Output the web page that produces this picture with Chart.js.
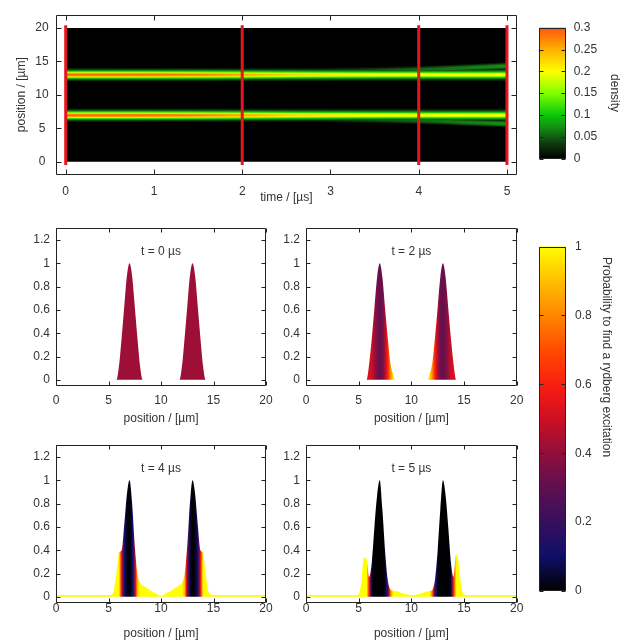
<!DOCTYPE html>
<html>
<head>
<meta charset="utf-8">
<script src="https://cdn.jsdelivr.net/npm/chart.js@4.4.1/dist/chart.umd.min.js"></script>
<style>
    html, body { margin: 0; padding: 0; background: #fff; }
    #wrap { position: relative; width: 631px; height: 641px; overflow: hidden; }
    canvas { position: absolute; }
</style>
</head>
<body>
<div id="wrap">
    <canvas id="heat" width="540" height="210" style="left:0;top:0"></canvas>
    <canvas id="densityBar" width="111" height="190" style="left:520px;top:0"></canvas>
    <canvas id="p0" width="290" height="215" style="left:0;top:215px"></canvas>
    <canvas id="p2" width="290" height="215" style="left:250px;top:215px"></canvas>
    <canvas id="p4" width="290" height="209" style="left:0;top:432px"></canvas>
    <canvas id="p5" width="290" height="209" style="left:250px;top:432px"></canvas>
    <canvas id="probBar" width="111" height="380" style="left:520px;top:230px"></canvas>
</div>
<script>
// --- top panel: band centres and peak density over time ---
const heatTimes = [0, 0.5, 1, 1.5, 2, 2.5, 3, 3.5, 4, 4.5, 5];
const upperCenter = [13.0, 13.0, 13.0, 13.0, 13.0, 13.0, 13.0, 13.0, 13.0, 13.0, 13.0];
const lowerCenter = [6.95, 6.95, 6.95, 6.95, 6.95, 6.95, 6.95, 6.95, 6.95, 6.95, 6.95];
const mainPeak = [0.29, 0.29, 0.285, 0.275, 0.255, 0.23, 0.215, 0.205, 0.2, 0.2, 0.2];
const upperBranch = [null, null, null, null, null, 13.35, 13.5, 13.6, 13.75, 14.0, 14.3];
const lowerBranch = [null, null, null, null, null, 6.55, 6.4, 6.3, 6.15, 5.9, 5.65];
const branchPeak = [null, null, null, null, null, 0.025, 0.04, 0.05, 0.06, 0.07, 0.08];
const markTimes = [0, 2, 4, 5];

const timeTicks = [0, 1, 2, 3, 4, 5];
const heatPosTicks = [0, 5, 10, 15, 20];
const densityTicks = [0, 0.05, 0.1, 0.15, 0.2, 0.25, 0.3];
const posTicks = [0, 5, 10, 15, 20];
const profileTicks = [0, 0.2, 0.4, 0.6, 0.8, 1, 1.2];
const probTicks = [0, 0.2, 0.4, 0.6, 0.8, 1];

// --- bottom panels: normalised density and excitation probability ---
const positions = [0, 1, 2, 3, 4, 4.5, 5, 5.25, 5.5, 5.75, 6, 6.25, 6.5, 6.75, 7, 7.25, 7.5, 7.75, 8, 8.25, 8.5, 8.75, 9, 9.5,
    10, 10.5, 11, 11.25, 11.5, 11.75, 12, 12.25, 12.5, 12.75, 13, 13.25, 13.5, 13.75, 14, 14.25, 14.5, 14.75, 15, 15.5, 16, 17, 18, 19, 20];
const snapLabels = ["t = 0 µs", "t = 2 µs", "t = 4 µs", "t = 5 µs"];

const density0 = [0, 0, 0, 0, 0, 0, 0, 0, 0, 0,
    0.12, 0.36, 0.63, 0.89, 1.0, 0.89, 0.63, 0.36, 0.12,
    0, 0, 0, 0, 0, 0, 0, 0, 0, 0, 0,
    0.12, 0.36, 0.63, 0.89, 1.0, 0.89, 0.63, 0.36, 0.12,
    0, 0, 0, 0, 0, 0, 0, 0, 0, 0];
const prob0 = [0.42, 0.42, 0.42, 0.42, 0.42, 0.42, 0.42, 0.42, 0.42, 0.42,
    0.42, 0.42, 0.42, 0.42, 0.42, 0.42, 0.42, 0.42, 0.42,
    0.42, 0.42, 0.42, 0.42, 0.42, 0.42, 0.42, 0.42, 0.42, 0.42, 0.42,
    0.42, 0.42, 0.42, 0.42, 0.42, 0.42, 0.42, 0.42, 0.42,
    0.42, 0.42, 0.42, 0.42, 0.42, 0.42, 0.42, 0.42, 0.42, 0.42];

const density2 = [0, 0, 0, 0, 0, 0, 0, 0, 0, 0,
    0.14, 0.36, 0.62, 0.88, 1.0, 0.88, 0.62, 0.37, 0.15, 0.05, 0,
    0, 0, 0, 0, 0, 0, 0, 0,
    0.05, 0.15, 0.37, 0.62, 0.88, 1.0, 0.88, 0.62, 0.36, 0.14, 0,
    0, 0, 0, 0, 0, 0, 0, 0, 0];
const prob2 = [0.52, 0.52, 0.52, 0.52, 0.52, 0.52, 0.52, 0.52, 0.52, 0.52,
    0.52, 0.5, 0.42, 0.34, 0.31, 0.33, 0.45, 0.6, 0.8, 0.95, 1.0,
    1.0, 1.0, 1.0, 1.0, 1.0, 1.0, 1.0, 1.0,
    0.95, 0.8, 0.6, 0.45, 0.33, 0.31, 0.34, 0.42, 0.5, 0.52, 0.52,
    0.52, 0.52, 0.52, 0.52, 0.52, 0.52, 0.52, 0.52, 0.52];

const density4 = [0.015, 0.015, 0.015, 0.015, 0.015, 0.015, 0.015,
    0.02, 0.05, 0.2, 0.38, 0.4, 0.62, 0.88, 1.0, 0.8, 0.44, 0.2, 0.12, 0.1, 0.085, 0.07, 0.055, 0.03,
    0.006, 0.03, 0.055, 0.07, 0.085, 0.1, 0.12, 0.2, 0.44, 0.8, 1.0, 0.88, 0.62, 0.4, 0.38, 0.2, 0.05, 0.02,
    0.015, 0.015, 0.015, 0.015, 0.015, 0.015, 0.015];
const prob4 = [1.0, 1.0, 1.0, 1.0, 1.0, 1.0, 1.0, 1.0, 1.0, 1.0, 1.0,
    0.55, 0.12, 0.02, 0.0, 0.06, 0.4, 0.9,
    1.0, 1.0, 1.0, 1.0, 1.0, 1.0, 1.0, 1.0, 1.0, 1.0, 1.0, 1.0, 1.0,
    0.9, 0.4, 0.06, 0.0, 0.02, 0.12, 0.55,
    1.0, 1.0, 1.0, 1.0, 1.0, 1.0, 1.0, 1.0, 1.0, 1.0, 1.0];

const density5 = [0.015, 0.015, 0.015, 0.015, 0.015, 0.015,
    0.02, 0.12, 0.34, 0.32, 0.17, 0.3, 0.6, 0.87, 1.0, 0.75, 0.4, 0.15, 0.065, 0.055, 0.05, 0.045, 0.035, 0.022,
    0.015, 0.02, 0.03, 0.04, 0.045, 0.05, 0.06, 0.15, 0.4, 0.75, 1.0, 0.87, 0.6, 0.3, 0.17, 0.36, 0.28, 0.08, 0.02,
    0.015, 0.015, 0.015, 0.015, 0.015, 0.015];
const prob5 = [1.0, 1.0, 1.0, 1.0, 1.0, 1.0, 1.0, 1.0, 1.0, 1.0,
    0.6, 0.04, 0, 0, 0, 0, 0.02, 0.2, 0.75,
    1.0, 1.0, 1.0, 1.0, 1.0, 1.0, 1.0, 1.0, 1.0, 1.0, 1.0,
    0.75, 0.2, 0.02, 0, 0, 0, 0, 0.04, 0.6,
    1.0, 1.0, 1.0, 1.0, 1.0, 1.0, 1.0, 1.0, 1.0, 1.0];

// colour maps
const densityStops = [[0, 0, 0, 0], [0.035, 15, 60, 15], [0.07, 20, 140, 20], [0.1, 10, 200, 10], [0.15, 130, 255, 0],
    [0.2, 255, 255, 0], [0.25, 255, 175, 0], [0.3, 255, 85, 15]];
const probStops = [[0, 0, 0, 0], [0.1, 15, 15, 105], [0.2, 55, 15, 95], [0.3, 95, 15, 80], [0.4, 145, 15, 60],
    [0.5, 205, 15, 35], [0.6, 250, 30, 15], [0.7, 255, 75, 0], [0.8, 255, 135, 0], [0.9, 255, 190, 0], [1, 255, 255, 0]];

function paletteColor(stops, v) {
    if (v <= stops[0][0]) {
        return "rgb(" + stops[0].slice(1).join(",") + ")";
    }
    for (let i = 1; i < stops.length; i++) {
        if (v <= stops[i][0]) {
            const a = stops[i - 1], b = stops[i];
            const t = (v - a[0]) / (b[0] - a[0]);
            const c = [1, 2, 3].map(k => Math.round(a[k] + t * (b[k] - a[k])));
            return "rgb(" + c.join(",") + ")";
        }
    }
    return "rgb(" + stops[stops.length - 1].slice(1).join(",") + ")";
}
const densityColor = v => paletteColor(densityStops, v);
const probColor = v => paletteColor(probStops, v);

Chart.defaults.font.family = '"Liberation Sans", Arial, sans-serif';
Chart.defaults.font.size = 12;
Chart.defaults.color = "#333";
Chart.defaults.animation = false;
Chart.defaults.responsive = false;
Chart.defaults.events = [];
Chart.defaults.plugins.legend.display = false;
Chart.defaults.plugins.tooltip.enabled = false;
Chart.defaults.elements.point.radius = 0;

// frame box with inward ticks on all four sides
const framePlugin = {
    id: "frame",
    afterDraw(chart, args, opts) {
        const { ctx, chartArea: a, scales } = chart;
        const len = opts.tick || 4;
        const l = Math.round(a.left) + 0.5, r = Math.round(a.right) - 0.5;
        const t = Math.round(a.top) + 0.5, b = Math.round(a.bottom) - 0.5;
        ctx.save();
        ctx.strokeStyle = "#222";
        ctx.lineWidth = 1;
        ctx.beginPath();
        if (scales.x.options.display) {
            scales.x.ticks.forEach(tk => {
                const px = Math.round(scales.x.getPixelForValue(tk.value)) + 0.5;
                ctx.moveTo(px, t); ctx.lineTo(px, t + len);
                ctx.moveTo(px, b); ctx.lineTo(px, b - len);
            });
        }
        scales.y.ticks.forEach(tk => {
            const py = Math.round(scales.y.getPixelForValue(tk.value)) + 0.5;
            ctx.moveTo(l, py); ctx.lineTo(l + len, py);
            ctx.moveTo(r, py); ctx.lineTo(r - len, py);
        });
        ctx.rect(l, t, r - l, b - t);
        ctx.stroke();
        ctx.restore();
    }
};

const lightenPlugin = {
    id: "lighten",
    beforeDatasetDraw(chart, args) {
        if (chart.data.datasets[args.index].lighten) {
            chart.ctx.globalCompositeOperation = "lighten";
        }
    },
    afterDatasetDraw(chart) {
        chart.ctx.globalCompositeOperation = "source-over";
    }
};

const colorbarPlugin = {
    id: "colorbar",
    beforeDatasetsDraw(chart, args, opts) {
        const { ctx, chartArea: a, scales: { y } } = chart;
        const g = ctx.createLinearGradient(0, y.getPixelForValue(y.min), 0, y.getPixelForValue(y.max));
        for (let i = 0; i <= 60; i++) {
            g.addColorStop(i / 60, opts.color(y.min + (y.max - y.min) * i / 60));
        }
        ctx.save();
        ctx.fillStyle = g;
        ctx.fillRect(a.left, a.top, a.right - a.left, a.bottom - a.top);
        ctx.restore();
    }
};

const notePlugin = {
    id: "note",
    afterDatasetsDraw(chart, args, opts) {
        if (!opts.text) {
            return;
        }
        const { ctx, scales } = chart;
        const px = opts.px !== undefined ? opts.px : scales.x.getPixelForValue(opts.x);
        const py = opts.py !== undefined ? opts.py : scales.y.getPixelForValue(opts.y);
        ctx.save();
        ctx.font = '12px "Liberation Sans", Arial, sans-serif';
        ctx.fillStyle = "#333";
        ctx.textBaseline = "middle";
        ctx.textAlign = opts.align || "center";
        ctx.translate(px, py);
        if (opts.rotate) {
            ctx.rotate(opts.rotate);
        }
        ctx.fillText(opts.text, 0, 0);
        ctx.restore();
    }
};

const setTicks = values => scale => { scale.ticks = values.map(v => ({ value: v })); };
const noGrid = { display: false, drawTicks: false };

// ---------- top heat map ----------
function bandGradient(chart, peaks, f) {
    const xs = chart.scales.x;
    if (!xs || !chart.chartArea) {
        return densityColor(0.1);
    }
    const t0 = heatTimes[0], t1 = heatTimes[heatTimes.length - 1];
    const g = chart.ctx.createLinearGradient(xs.getPixelForValue(t0), 0, xs.getPixelForValue(t1), 0);
    heatTimes.forEach((t, i) => {
        if (peaks[i] !== null) {
            g.addColorStop((t - t0) / (t1 - t0), densityColor(peaks[i] * f));
        }
    });
    return g;
}

// [line width in px, fraction of the peak density]
const mainLayers = [[13, 0.08], [11, 0.15], [9, 0.28], [7, 0.45], [5, 0.65], [3.5, 0.85], [2, 1.0]];
const branchLayers = [[7, 0.3], [5, 0.6], [3, 0.9]];

const heatDatasets = [{
    data: [{ x: 0, y: 20 }, { x: 5, y: 20 }],
    fill: { value: 0 },
    backgroundColor: "#000",
    borderWidth: 0,
    order: 100
}];
[upperCenter, lowerCenter].forEach(center => {
    mainLayers.forEach(([w, f], k) => {
        heatDatasets.push({
            data: heatTimes.map((t, i) => ({ x: t, y: center[i] })),
            borderWidth: w,
            borderColor: ctx => bandGradient(ctx.chart, mainPeak, f),
            order: 50 - k
        });
    });
});
[upperBranch, lowerBranch].forEach(center => {
    branchLayers.forEach(([w, f], k) => {
        heatDatasets.push({
            data: heatTimes.map((t, i) => ({ x: t, y: center[i] })),
            borderWidth: w,
            borderColor: ctx => bandGradient(ctx.chart, branchPeak, f),
            cubicInterpolationMode: "monotone",
            lighten: true,
            order: 20 - k
        });
    });
});
markTimes.forEach(t => {
    heatDatasets.push({
        data: [{ x: t, y: -0.5 }, { x: t, y: 20.4 }],
        borderColor: "#e3161d",
        borderWidth: 3,
        order: 0
    });
});

new Chart(document.getElementById("heat"), {
    type: "line",
    data: { datasets: heatDatasets },
    plugins: [framePlugin, lightenPlugin],
    options: {
        devicePixelRatio: 1,
        layout: { padding: { left: 0, top: 8.3, right: 23.3, bottom: 5 } },
        plugins: { frame: { tick: 5 } },
        scales: {
            x: {
                type: "linear", min: -0.11, max: 5.11,
                afterBuildTicks: setTicks(timeTicks),
                afterFit: s => { s.height = 30; },
                grid: noGrid, border: { display: false },
                ticks: { padding: 9.8, callback: v => String(v) },
                title: { display: true, text: "time / [µs]", padding: { top: 0, bottom: 0 } }
            },
            y: {
                type: "linear", min: -2, max: 22,
                afterBuildTicks: setTicks(heatPosTicks),
                afterFit: s => { s.width = 56; },
                grid: noGrid, border: { display: false },
                ticks: { padding: 7.3, crossAlign: "center", callback: v => String(v) },
                title: { display: true, text: "position / [µm]", padding: { top: 14.8, bottom: 0 } }
            }
        }
    }
});

// ---------- colour bars ----------
function colorbar(id, color, max, ticks, padTop, padBottom, labelPad, title) {
    return new Chart(document.getElementById(id), {
        type: "line",
        data: { datasets: [] },
        plugins: [colorbarPlugin, framePlugin, notePlugin],
        options: {
            devicePixelRatio: 1,
            layout: { padding: { left: 19, top: padTop, right: 0, bottom: padBottom } },
            plugins: { colorbar: { color }, frame: { tick: 4 }, note: title.note || {} },
            scales: {
                x: { type: "linear", min: 0, max: 1, display: false },
                y: {
                    type: "linear", position: "right", min: 0, max: max,
                    afterBuildTicks: setTicks(ticks),
                    afterFit: s => { s.width = 65.3; },
                    grid: noGrid, border: { display: false },
                    ticks: { padding: labelPad, callback: v => String(v) },
                    title: title.axis || { display: false }
                }
            }
        }
    });
}

colorbar("densityBar", densityColor, 0.3, densityTicks, 27.7, 31.5, 8,
    { axis: { display: true, text: "density", padding: { top: 9.8, bottom: 0 } } });
colorbar("probBar", probColor, 1, probTicks, 14, 19, 9.3,
    { note: { text: "Probability to find a rydberg excitation", px: 86, py: 27, align: "left", rotate: Math.PI / 2 } });

// ---------- snapshot panels ----------
// horizontal gradient following the probability at each sampled position
function probGradient(chart, prob) {
    const xs = chart.scales.x;
    if (!xs || !chart.chartArea) {
        return probColor(prob[0]);
    }
    const n = positions.length;
    const x0 = xs.getPixelForValue(positions[0]);
    const x1 = xs.getPixelForValue(positions[n - 1]);
    const g = chart.ctx.createLinearGradient(x0, 0, x1, 0);
    for (let i = 0; i < n - 1; i++) {
        for (let s = 0; s < 6; s++) {
            const u = s / 6;
            const pos = positions[i] + u * (positions[i + 1] - positions[i]);
            const v = prob[i] + u * (prob[i + 1] - prob[i]);
            g.addColorStop((xs.getPixelForValue(pos) - x0) / (x1 - x0), probColor(v));
        }
    }
    g.addColorStop(1, probColor(prob[n - 1]));
    return g;
}

const panels = [
    { id: "p0", density: density0, prob: prob0, label: snapLabels[0], padTop: 10, padRight: 24, padBottom: 3.3, axisH: 41, tickPad: 8, titlePad: 0.5 },
    { id: "p2", density: density2, prob: prob2, label: snapLabels[1], padTop: 10, padRight: 23.3, padBottom: 3.3, axisH: 41, tickPad: 8, titlePad: 0.5 },
    { id: "p4", density: density4, prob: prob4, label: snapLabels[2], padTop: 10.3, padRight: 24, padBottom: 0, axisH: 38.3, tickPad: -1.2, titlePad: 0 },
    { id: "p5", density: density5, prob: prob5, label: snapLabels[3], padTop: 10.3, padRight: 23.3, padBottom: 0, axisH: 38.3, tickPad: -1.2, titlePad: 0 }
];

panels.forEach(p => {
    new Chart(document.getElementById(p.id), {
        type: "line",
        data: {
            datasets: [{
                data: positions.map((x, i) => ({ x: x, y: p.density[i] })),
                fill: "origin",
                borderWidth: 0,
                cubicInterpolationMode: "monotone",
                backgroundColor: ctx => probGradient(ctx.chart, p.prob)
            }]
        },
        plugins: [framePlugin, notePlugin],
        options: {
            devicePixelRatio: 1,
            layout: { padding: { left: 0, top: p.padTop, right: p.padRight, bottom: p.padBottom } },
            plugins: { frame: { tick: 4 }, note: { text: p.label, x: 10, y: 1.1 } },
            scales: {
                x: {
                    type: "linear", min: 0, max: 20,
                    afterBuildTicks: setTicks(posTicks),
                    afterFit: s => { s.height = p.axisH; },
                    grid: noGrid, border: { display: false },
                    ticks: { padding: p.tickPad, callback: v => String(v) },
                    title: { display: true, text: "position / [µm]", padding: { top: 0, bottom: p.titlePad } }
                },
                y: {
                    type: "linear", min: -0.05, max: 1.3,
                    afterBuildTicks: setTicks(profileTicks),
                    afterFit: s => { s.width = 56; },
                    grid: noGrid, border: { display: false },
                    ticks: { padding: 6, callback: v => String(v) }
                }
            }
        }
    });
});
</script>
</body>
</html>
